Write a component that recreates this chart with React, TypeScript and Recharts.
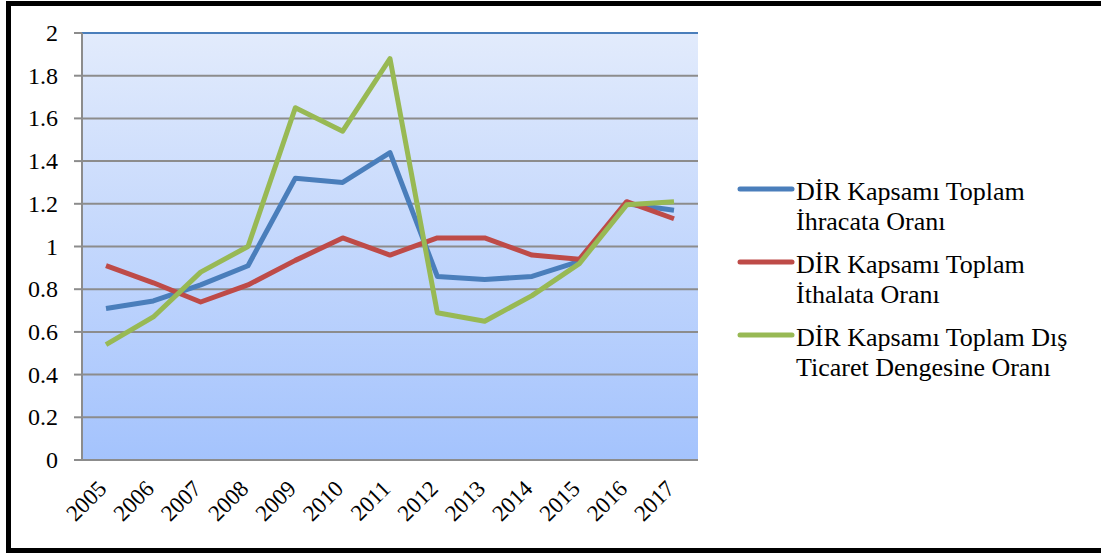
import { LineChart, Line, XAxis, YAxis, CartesianGrid, Legend, ReferenceLine } from 'recharts';

const years = ['2005', '2006', '2007', '2008', '2009', '2010', '2011', '2012', '2013', '2014', '2015', '2016', '2017'];
const ihracat = [0.71, 0.745, 0.82, 0.91, 1.32, 1.3, 1.44, 0.86, 0.845, 0.86, 0.93, 1.2, 1.17];
const ithalat = [0.91, 0.83, 0.74, 0.82, 0.935, 1.04, 0.96, 1.04, 1.04, 0.96, 0.94, 1.21, 1.13];
const disTicaret = [0.54, 0.67, 0.88, 1.0, 1.65, 1.54, 1.88, 0.69, 0.65, 0.77, 0.92, 1.195, 1.21];
const yTicks = [0, 0.2, 0.4, 0.6, 0.8, 1, 1.2, 1.4, 1.6, 1.8, 2];
const boundaryTicks = [0, 1, 2, 3, 4, 5, 6, 7, 8, 9, 10, 11, 12, 13];

const seriesNames = [
  'DİR Kapsamı Toplam\nİhracata Oranı',
  'DİR Kapsamı Toplam\nİthalata Oranı',
  'DİR Kapsamı Toplam Dış\nTicaret Dengesine Oranı',
];

const data = years.map((year, i) => ({
  year,
  ihracat: ihracat[i],
  ithalat: ithalat[i],
  disTicaret: disTicaret[i],
}));

const FONT = '"Liberation Serif", "Times New Roman", serif';

// rotated year labels, anchored at their right end
const YearTick = ({ x, y, payload }: any) => (
  <text
    x={x + 2}
    y={y}
    transform={`rotate(-45, ${x + 2}, ${y})`}
    textAnchor="end"
    style={{ fontFamily: FONT, fontSize: 23 }}
    fill="#000"
  >
    {payload.value}
  </text>
);

const ValueTick = ({ x, y, payload }: any) => (
  <text x={x} y={y} dy={8} textAnchor="end" style={{ fontFamily: FONT, fontSize: 24 }} fill="#000">
    {payload.value}
  </text>
);

const renderLegend = ({ payload }: any) => (
  <div style={{ fontFamily: FONT, fontSize: 26, color: '#000' }}>
    {(payload || []).map((entry: any) => (
      <div key={entry.value} style={{ display: 'flex', alignItems: 'flex-start', marginBottom: 13 }}>
        <svg width={59} height={30} style={{ flexShrink: 0 }}>
          <line x1={3} y1={12} x2={55} y2={12} stroke={entry.color} strokeWidth={5} strokeLinecap="round" />
        </svg>
        <div style={{ whiteSpace: 'pre-line', lineHeight: '30px' }}>{entry.value}</div>
      </div>
    ))}
  </div>
);

export default function App() {
  return (
    <div style={{ position: 'absolute', left: 0, top: 0, width: 1101, height: 553, overflow: 'hidden', background: '#fff' }}>
      <div
        style={{
          position: 'absolute',
          left: 6,
          top: 1,
          width: 1120,
          height: 552,
          border: '5px solid #000',
          boxSizing: 'border-box',
        }}
      />
      <div style={{ position: 'absolute', left: 0, top: 0 }}>
        <LineChart width={1101} height={553} data={data} margin={{ top: 33, right: 403, bottom: 5, left: 0 }}>
          <defs>
            <linearGradient id="plotBg" x1="0" y1="0" x2="0" y2="1">
              <stop offset="0%" stopColor="#e2ebfc" />
              <stop offset="100%" stopColor="#a4c3fd" />
            </linearGradient>
          </defs>
          <CartesianGrid
            xAxisId="cat"
            yAxisId="left"
            vertical={false}
            fill="url(#plotBg)"
            fillOpacity={1}
            stroke="#8c8c8c"
            strokeWidth={2}
          />
          <XAxis
            xAxisId="grid"
            type="number"
            domain={[0, 13]}
            ticks={boundaryTicks}
            allowDataOverflow
            height={0}
            tick={false}
            tickSize={8}
            tickLine={{ stroke: '#8c8c8c', strokeWidth: 2 }}
            axisLine={{ stroke: '#8c8c8c', strokeWidth: 2 }}
          />
          <XAxis
            xAxisId="cat"
            dataKey="year"
            interval={0}
            height={88}
            padding={{ left: 24, right: 24 }}
            tickLine={false}
            axisLine={false}
            tickSize={0}
            tickMargin={30}
            tick={<YearTick />}
          />
          <YAxis
            yAxisId="left"
            domain={[0, 2]}
            ticks={yTicks}
            width={82}
            tickSize={8}
            tickMargin={16}
            tick={<ValueTick />}
            tickLine={{ stroke: '#8c8c8c', strokeWidth: 2 }}
            axisLine={{ stroke: '#8c8c8c', strokeWidth: 2 }}
          />
          <YAxis
            yAxisId="right"
            orientation="right"
            domain={[0, 2]}
            width={0}
            tick={false}
            tickLine={false}
            axisLine={{ stroke: '#4a7ebb', strokeWidth: 2 }}
          />
          <ReferenceLine xAxisId="cat" yAxisId="left" y={2} stroke="#4a7ebb" strokeWidth={2} />
          <Legend
            layout="vertical"
            align="center"
            verticalAlign="middle"
            content={renderLegend}
            wrapperStyle={{ left: 737, top: 177, width: 364 }}
          />
          <Line
            xAxisId="cat"
            yAxisId="left"
            name={seriesNames[0]}
            dataKey="ihracat"
            stroke="#4a7ebb"
            strokeWidth={5}
            dot={false}
            strokeLinejoin="round"
            isAnimationActive={false}
          />
          <Line
            xAxisId="cat"
            yAxisId="left"
            name={seriesNames[1]}
            dataKey="ithalat"
            stroke="#be4b48"
            strokeWidth={5}
            dot={false}
            strokeLinejoin="round"
            isAnimationActive={false}
          />
          <Line
            xAxisId="cat"
            yAxisId="left"
            name={seriesNames[2]}
            dataKey="disTicaret"
            stroke="#98b954"
            strokeWidth={5}
            dot={false}
            strokeLinejoin="round"
            isAnimationActive={false}
          />
        </LineChart>
      </div>
    </div>
  );
}
